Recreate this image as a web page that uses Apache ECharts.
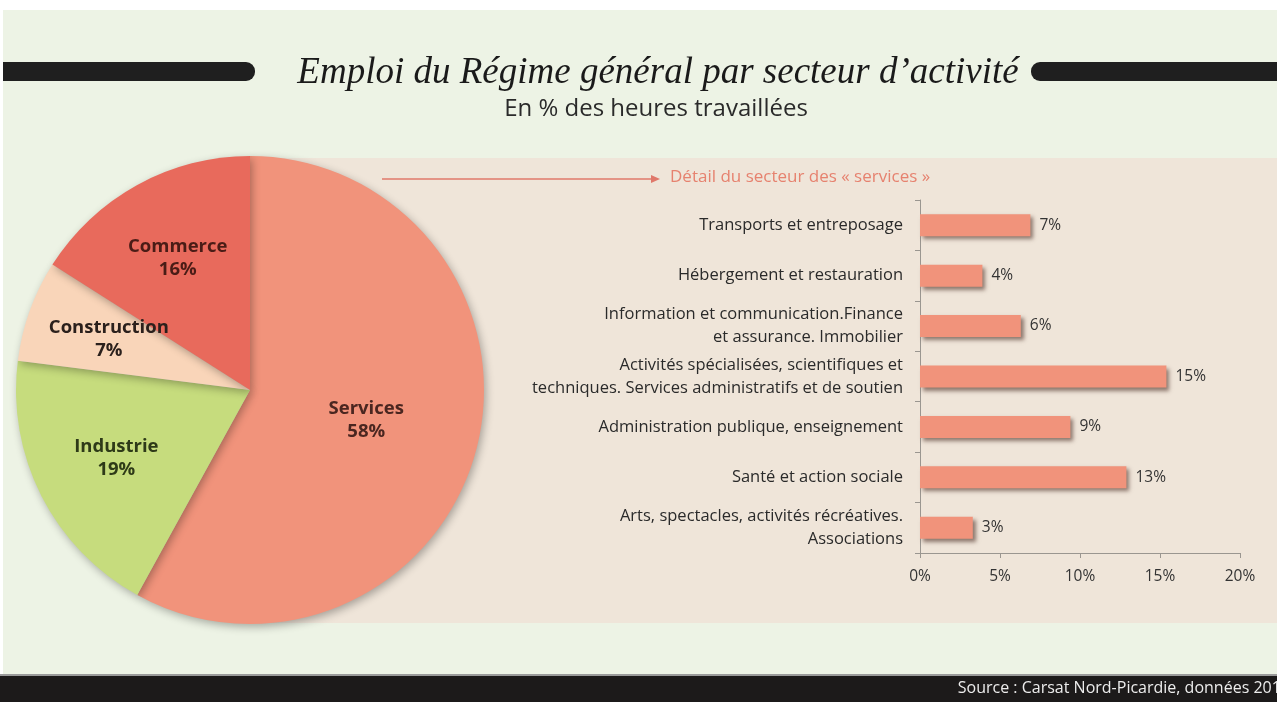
<!DOCTYPE html>
<html>
<head>
<meta charset="utf-8">
<script src="https://cdn.jsdelivr.net/npm/echarts@6/dist/echarts.min.js"></script>
<style>
  html, body { margin: 0; padding: 0; background: #ffffff; }
  #chart { width: 1277px; height: 702px; }
</style>
</head>
<body>
<div id="chart"></div>
<script>
// --- Data ---
var pieNames = ['Services', 'Industrie', 'Construction', 'Commerce'];
var pieValues = [58, 19, 7, 16];
var pieColors = ['#f1937b', '#c6dc7d', '#f9d5b9', '#e86a5c'];
var pieLabelColors = ['#4a2620', '#2e3a18', '#2b201c', '#4a1c16'];

var serviceCats = [
  'Transports et entreposage',
  'Hébergement et restauration',
  'Information et communication.Finance\net assurance. Immobilier',
  'Activités spécialisées, scientifiques et\ntechniques. Services administratifs et de soutien',
  'Administration publique, enseignement',
  'Santé et action sociale',
  'Arts, spectacles, activités récréatives.\nAssociations'
];
var serviceValues = [6.9, 3.9, 6.3, 15.4, 9.4, 12.9, 3.3];

(function() {
  var chart = echarts.init(document.getElementById('chart'), null, { renderer: 'canvas' });
  var font = '"Open Sans", Lato, sans-serif';

  // main pie: only the Services label sits at half radius
  var pieData = pieNames.map(function(n, i) {
    return {
      name: n,
      value: pieValues[i],
      itemStyle: { color: pieColors[i] },
      label: { show: i === 0, color: pieLabelColors[i] }
    };
  });
  // label-only ring so the smaller slices get labels further out
  var pieLabelData = pieNames.map(function(n, i) {
    return {
      name: n,
      value: pieValues[i],
      label: { show: i !== 0, color: pieLabelColors[i] }
    };
  });

  var pieLabel = {
    position: 'inside',
    formatter: '{b}\n{c}%',
    fontFamily: font,
    fontWeight: 'bold',
    fontSize: 18.5,
    lineHeight: 23
  };

  chart.setOption({
    animation: false,
    backgroundColor: '#ffffff',
    graphic: [
      // page background
      { type: 'rect', z: -20, shape: { x: 3, y: 10, width: 1274, height: 666 }, style: { fill: '#edf3e5' } },
      // beige panel behind the bar chart
      { type: 'rect', z: -19, shape: { x: 250, y: 158, width: 1027, height: 465 }, style: { fill: '#efe5d9' } },
      // title bars
      { type: 'rect', z: -18, shape: { x: 3, y: 62, width: 252, height: 19, r: [0, 9, 9, 0] }, style: { fill: '#1f1f1f' } },
      { type: 'rect', z: -18, shape: { x: 1031, y: 62, width: 250, height: 19, r: [9, 0, 0, 9] }, style: { fill: '#1f1f1f' } },
      {
        type: 'text', x: 658, y: 55, z: 5,
        style: {
          text: 'Emploi du Régime général par secteur d\u2019activité',
          font: 'italic 37px "Liberation Serif", "DejaVu Serif", serif',
          fill: '#1a1a1a',
          align: 'center'
        }
      },
      {
        type: 'text', x: 656, y: 97, z: 5,
        style: {
          text: 'En % des heures travaillées',
          font: '24px "Open Sans", sans-serif',
          fill: '#2a2a2a',
          align: 'center'
        }
      },
      // arrow towards the detail chart
      { type: 'line', z: 5, shape: { x1: 382, y1: 179, x2: 652, y2: 179 }, style: { stroke: '#e0786a', lineWidth: 1.3 } },
      { type: 'polygon', z: 5, shape: { points: [[651, 175], [660, 179], [651, 183]] }, style: { fill: '#e0786a' } },
      {
        type: 'text', x: 670, y: 169, z: 5,
        style: { text: 'Détail du secteur des « services »', font: '17px ' + font, fill: '#e6826f' }
      },
      // footer
      { type: 'rect', z: -18, shape: { x: 0, y: 674, width: 1277, height: 2 }, style: { fill: '#9a9a9a' } },
      { type: 'rect', z: -18, shape: { x: 0, y: 676, width: 1277, height: 26 }, style: { fill: '#1c1a1a' } },
      {
        type: 'text', x: 1290, y: 680, z: 5,
        style: { text: 'Source : Carsat Nord-Picardie, données 2016', font: '16px ' + font, fill: '#ececec', align: 'right' }
      }
    ],
    grid: { left: 920, right: 37, top: 200, bottom: 149 },
    xAxis: {
      type: 'value',
      min: 0,
      max: 20,
      interval: 5,
      axisLine: { show: true, lineStyle: { color: '#9a9690' } },
      axisTick: { show: true, length: 5, lineStyle: { color: '#9a9690' } },
      splitLine: { show: false },
      axisLabel: { color: '#333', fontSize: 15.5, fontFamily: font, margin: 16, formatter: '{value}%' }
    },
    yAxis: {
      type: 'category',
      inverse: true,
      data: serviceCats,
      axisLine: { show: true, lineStyle: { color: '#9a9690' } },
      axisTick: { show: true, length: 5, lineStyle: { color: '#9a9690' } },
      axisLabel: { color: '#2a2a2a', fontSize: 16.5, fontFamily: font, margin: 17, lineHeight: 23, align: 'right' }
    },
    series: [
      {
        type: 'pie',
        center: [250, 390],
        radius: [0, 234],
        startAngle: 90,
        clockwise: true,
        silent: true,
        data: pieData,
        itemStyle: { shadowBlur: 8, shadowColor: 'rgba(0,0,0,0.3)', shadowOffsetX: 2, shadowOffsetY: 3 },
        label: pieLabel,
        labelLine: { show: false }
      },
      {
        type: 'pie',
        center: [250, 390],
        radius: [60, 234],
        startAngle: 90,
        clockwise: true,
        silent: true,
        z: 3,
        data: pieLabelData,
        itemStyle: { color: 'rgba(0,0,0,0)' },
        label: pieLabel,
        labelLine: { show: false }
      },
      {
        type: 'bar',
        data: serviceValues,
        barWidth: 22,
        itemStyle: {
          color: '#f1937b',
          shadowBlur: 4,
          shadowColor: 'rgba(60,30,20,0.55)',
          shadowOffsetX: 3,
          shadowOffsetY: 3
        },
        label: {
          show: true,
          position: 'right',
          distance: 9,
          color: '#333',
          fontSize: 15.5,
          fontFamily: font,
          formatter: function(p) { return Math.round(p.value) + '%'; }
        }
      }
    ]
  });

  window.addEventListener('resize', function() { chart.resize(); });
})();
</script>
</body>
</html>
